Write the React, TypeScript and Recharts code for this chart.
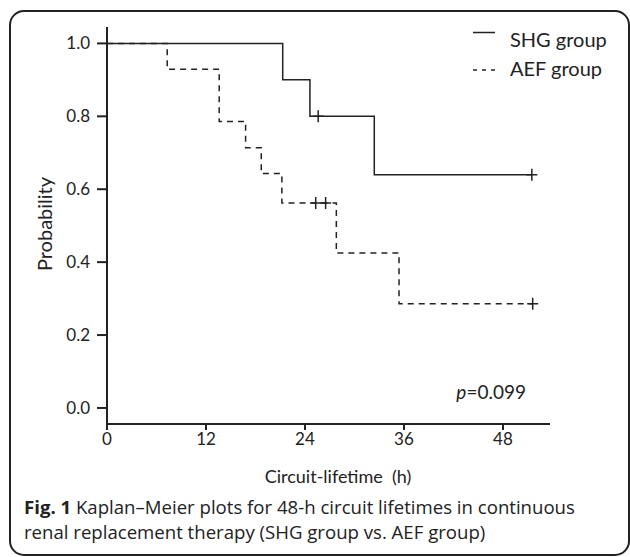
import React from 'react';
import { ComposedChart, Line, Scatter, XAxis, YAxis } from 'recharts';

// step times (h) and survival probability
const shgTimes = [0, 21.3, 24.6, 32.4, 51.5];
const shgProb = [1, 0.9, 0.8, 0.64, 0.64];
const aefTimes = [0, 7.3, 13.6, 16.8, 18.7, 21.2, 27.8, 35.4, 51.6];
const aefProb = [1, 0.929, 0.786, 0.714, 0.643, 0.5625, 0.425, 0.286, 0.286];

// censored observations
const shgCensorTimes = [25.6, 51.5];
const shgCensorProb = [0.8, 0.64];
const aefCensorTimes = [25.3, 26.5, 51.6];
const aefCensorProb = [0.5625, 0.5625, 0.286];

const xTicks = [0, 12, 24, 36, 48];
const yTicks = [0, 0.2, 0.4, 0.6, 0.8, 1.0];

const zip = (ts: number[], ps: number[]) => ts.map((t, i) => ({ t, s: ps[i] }));

const shgData = zip(shgTimes, shgProb);
const aefData = zip(aefTimes, aefProb);
const shgCensor = zip(shgCensorTimes, shgCensorProb);
const aefCensor = zip(aefCensorTimes, aefCensorProb);

const INK = '#222';
const FONT = 'Lato, "Open Sans", sans-serif';
const CAPTION_FONT = '"Open Sans", Lato, sans-serif';

const Plus = (props: any) => {
  const { cx, cy } = props;
  return (
    <path
      d={`M${cx - 5.5},${cy}H${cx + 5.5}M${cx},${cy - 6}V${cy + 6}`}
      stroke={INK}
      strokeWidth={1.5}
      fill="none"
    />
  );
};

const tickStyle = { fill: INK, fontSize: 17, fontFamily: FONT };

export default function App() {
  return (
    <div style={{ position: 'absolute', left: 0, top: 0, width: 630, height: 557, background: '#fff' }}>
      <ComposedChart
        width={630}
        height={557}
        margin={{ top: 27, right: 80, bottom: 103, left: 47 }}
        style={{ position: 'absolute', left: 0, top: 0 }}
      >
        <XAxis
          type="number"
          dataKey="t"
          domain={[0, 53.7]}
          ticks={xTicks}
          height={30}
          stroke={INK}
          axisLine={{ stroke: INK, strokeWidth: 2 }}
          tickLine={{ stroke: INK, strokeWidth: 2 }}
          tickSize={6}
          tickMargin={3}
          tick={tickStyle}
        />
        <YAxis
          type="number"
          dataKey="s"
          domain={[-0.044, 1.045]}
          ticks={yTicks}
          width={60}
          stroke={INK}
          axisLine={{ stroke: INK, strokeWidth: 2 }}
          tickLine={{ stroke: INK, strokeWidth: 2 }}
          tickSize={10}
          tickMargin={7}
          tick={tickStyle}
          tickFormatter={(v: number) => v.toFixed(1)}
        />
        <Line
          data={shgData}
          dataKey="s"
          type="stepAfter"
          stroke={INK}
          strokeWidth={1.5}
          dot={false}
          isAnimationActive={false}
        />
        <Line
          data={aefData}
          dataKey="s"
          type="stepAfter"
          stroke={INK}
          strokeWidth={1.5}
          strokeDasharray="6 5"
          dot={false}
          isAnimationActive={false}
        />
        <Scatter data={shgCensor} dataKey="s" shape={Plus} isAnimationActive={false} />
        <Scatter data={aefCensor} dataKey="s" shape={Plus} isAnimationActive={false} />
      </ComposedChart>

      <svg
        width={630}
        height={557}
        style={{ position: 'absolute', left: 0, top: 0, pointerEvents: 'none' }}
        fontFamily={FONT}
        fill={INK}
      >
        <rect x={10} y={11} width={619} height={544} rx={14} fill="none" stroke={INK} strokeWidth={2} />

        {/* legend */}
        <line x1={473} x2={495} y1={32.5} y2={32.5} stroke={INK} strokeWidth={1.5} />
        <text x={510} y={47} fontSize={20}>SHG group</text>
        <line x1={473} x2={495} y1={70} y2={70} stroke={INK} strokeWidth={1.5} strokeDasharray="4 5" />
        <text x={510} y={76} fontSize={20}>AEF group</text>

        <text x={526} y={399} fontSize={19} textAnchor="end">
          <tspan fontStyle="italic">p</tspan>=0.099
        </text>

        <text x={45} y={224} fontSize={20} textAnchor="middle" transform="rotate(-90 45 224)" dy="0.35em">
          Probability
        </text>
        <text x={338} y={483} fontSize={18} textAnchor="middle" style={{ whiteSpace: 'pre' }}>
          {'Circuit-lifetime  (h)'}
        </text>

        <g fontFamily={CAPTION_FONT} fontSize={18.6}>
          <text x={24} y={514}>
            <tspan fontWeight="bold">Fig. 1</tspan> Kaplan–Meier plots for 48-h circuit lifetimes in continuous
          </text>
          <text x={24} y={539}>
            renal replacement therapy (SHG group vs. AEF group)
          </text>
        </g>
      </svg>
    </div>
  );
}
